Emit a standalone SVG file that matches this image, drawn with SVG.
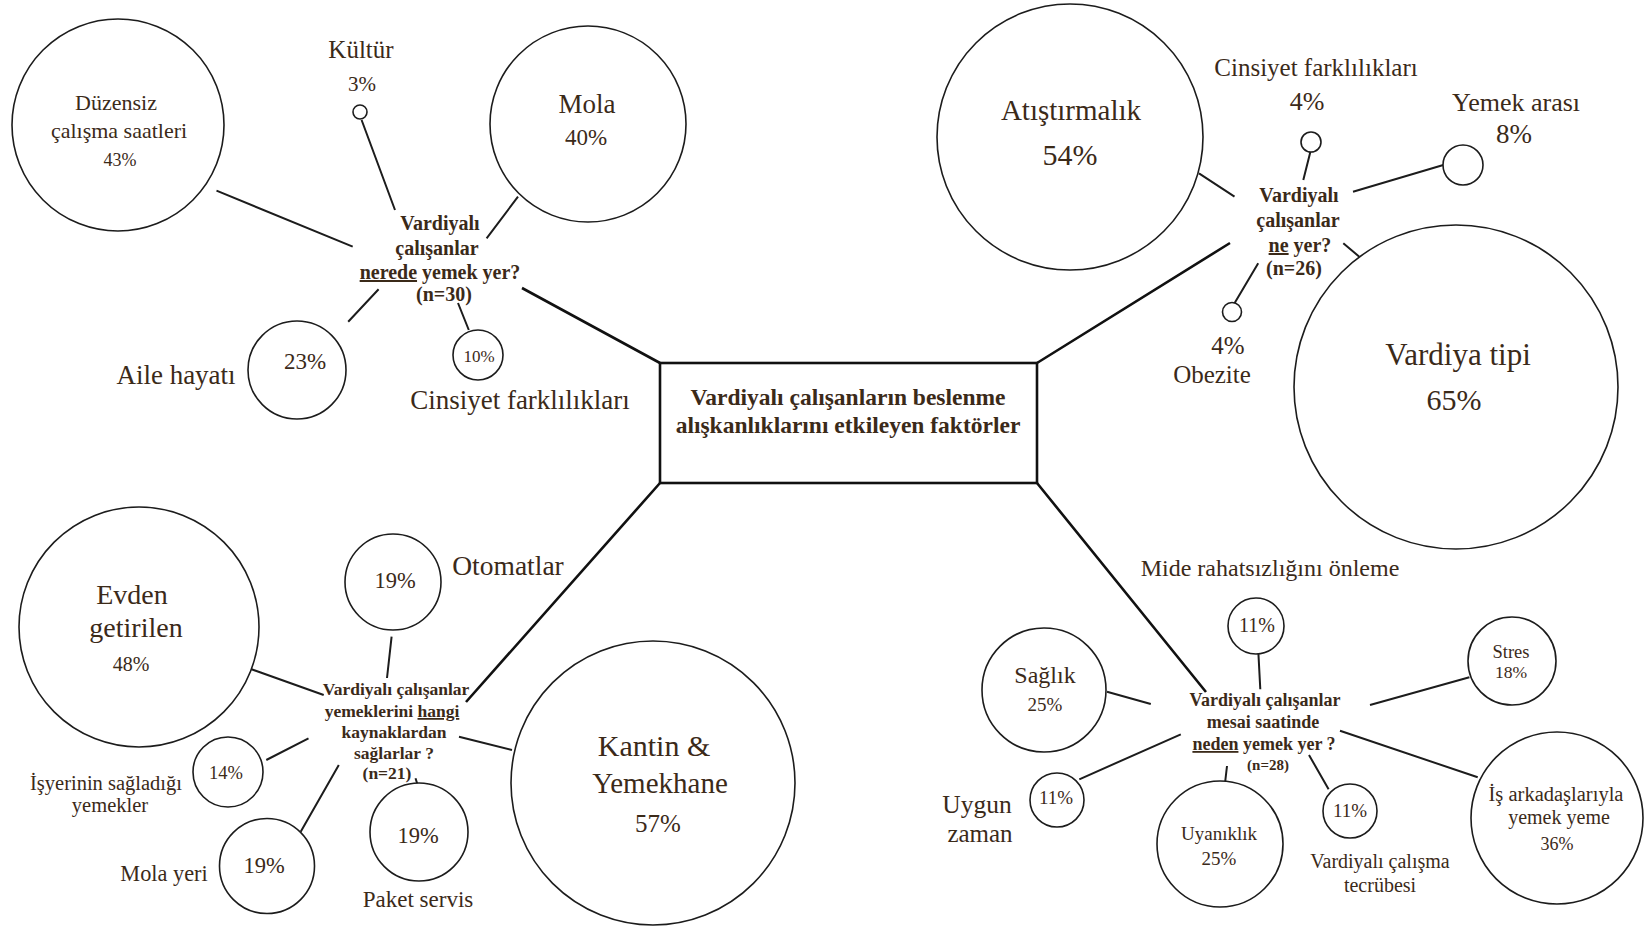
<svg xmlns="http://www.w3.org/2000/svg" width="1644" height="928" viewBox="0 0 1644 928">
<style>
text{font-family:"Liberation Serif","Times New Roman",serif;fill:#3b2a19;text-anchor:middle}
.b{font-weight:bold}
.c{fill:#fff;stroke:#1c1c1c;stroke-width:1.6}
.l{stroke:#1c1c1c;stroke-width:2;fill:none}
.m{stroke:#111;stroke-width:2.6;fill:none}
.u{text-decoration:underline}
</style>
<rect width="1644" height="928" fill="#fff"/>
<g id="connectors">
<path class="m" d="M522 288L660 363M1230 243L1037 363M466 702L660 483M1037 483L1206 692"/>
<path class="l" d="M216.5 190.7L352.7 246.7M361.6 120L395 210M518 196.7L486.6 238.3M348.2 321.7L378.6 289.3M458 303L468.8 330"/>
<path class="l" d="M1199 173.3L1234.5 196.7M1310.4 151.7L1303.3 180M1443.3 165L1353 191.7M1343.3 243.3L1359.3 256.7M1234.5 303.3L1258.2 263.3"/>
<path class="l" d="M246 667.3L323.7 695M391.6 636.7L387 678M266.3 760L308.5 738.3M300.7 831.7L338.8 765M415.5 778.3L418.7 788.3M459 736.7L512 750"/>
<path class="l" d="M1258.4 653.3L1260.3 689.3M1107 691.7L1150.8 704M1370 705L1469.4 677.3M1079.3 779.3L1180.8 734.3M1227 766L1224.7 786M1309 755L1328.6 789.3M1340 730.7L1477.7 777.3"/>
</g>
<g id="center">
<rect x="660" y="363" width="377" height="120" fill="#fff" stroke="#111" stroke-width="2.6"/>
<text class="b" x="848" y="405" font-size="23.5">Vardiyalı çalışanların beslenme</text>
<text class="b" x="848" y="433" font-size="23.5">alışkanlıklarını etkileyen faktörler</text>
</g>
<g id="q-nerede">
<text class="b" x="440" y="230" font-size="20">Vardiyalı</text>
<text class="b" x="437" y="255" font-size="20">çalışanlar</text>
<text class="b" x="440" y="279" font-size="20"><tspan class="u">nerede</tspan> yemek yer?</text>
<text class="b" x="444" y="301" font-size="20">(n=30)</text>
</g>
<g id="n-duzensiz">
<circle class="c" cx="118" cy="125" r="106"/>
<text x="116" y="110" font-size="22">Düzensiz</text>
<text x="119" y="138" font-size="22">çalışma saatleri</text>
<text x="120" y="166" font-size="18">43%</text>
</g>
<g id="n-kultur">
<circle class="c" cx="360" cy="112" r="7"/>
<text x="361" y="58" font-size="25">Kültür</text>
<text x="362" y="91" font-size="21">3%</text>
</g>
<g id="n-mola">
<circle class="c" cx="588" cy="124" r="98"/>
<text x="587" y="113" font-size="27">Mola</text>
<text x="586" y="145" font-size="23">40%</text>
</g>
<g id="n-aile">
<circle class="c" cx="297" cy="370" r="49"/>
<text x="305" y="369" font-size="23">23%</text>
<text x="176" y="384" font-size="27">Aile hayatı</text>
</g>
<g id="n-cinsiyet1">
<circle class="c" cx="478" cy="355" r="25"/>
<text x="479" y="362" font-size="17">10%</text>
<text x="520" y="409" font-size="27">Cinsiyet farklılıkları</text>
</g>
<g id="q-ne">
<text class="b" x="1299" y="202" font-size="20">Vardiyalı</text>
<text class="b" x="1298" y="227" font-size="20">çalışanlar</text>
<text class="b" x="1300" y="252" font-size="20"><tspan class="u">ne</tspan> yer?</text>
<text class="b" x="1294" y="275" font-size="20">(n=26)</text>
</g>
<g id="n-atistirmalik">
<circle class="c" cx="1070" cy="137" r="133"/>
<text x="1071" y="120" font-size="29">Atıştırmalık</text>
<text x="1070" y="165" font-size="30">54%</text>
</g>
<g id="n-cinsiyet2">
<circle class="c" cx="1311" cy="142" r="10"/>
<text x="1316" y="76" font-size="25">Cinsiyet farklılıkları</text>
<text x="1307" y="110" font-size="26">4%</text>
</g>
<g id="n-yemekarasi">
<circle class="c" cx="1463" cy="165" r="20"/>
<text x="1516" y="111" font-size="26">Yemek arası</text>
<text x="1514" y="143" font-size="27">8%</text>
</g>
<g id="n-obezite">
<circle class="c" cx="1232" cy="312" r="9.5"/>
<text x="1228" y="354" font-size="25">4%</text>
<text x="1212" y="383" font-size="25">Obezite</text>
</g>
<g id="n-vardiyatipi">
<circle class="c" cx="1456" cy="387" r="162"/>
<text x="1458" y="365" font-size="31">Vardiya tipi</text>
<text x="1454" y="410" font-size="30">65%</text>
</g>
<g id="q-hangi">
<text class="b" x="396" y="695" font-size="17.5">Vardiyalı çalışanlar</text>
<text class="b" x="392" y="717" font-size="17.5">yemeklerini <tspan class="u">hangi</tspan></text>
<text class="b" x="394" y="738" font-size="17.5">kaynaklardan</text>
<text class="b" x="394" y="759" font-size="17.5">sağlarlar ?</text>
<text class="b" x="387" y="779" font-size="17.5">(n=21)</text>
</g>
<g id="n-evden">
<circle class="c" cx="139" cy="627" r="120"/>
<text x="132" y="604" font-size="28">Evden</text>
<text x="136" y="637" font-size="28">getirilen</text>
<text x="131" y="671" font-size="20">48%</text>
</g>
<g id="n-otomatlar">
<circle class="c" cx="393" cy="582" r="48"/>
<text x="395" y="588" font-size="22.5">19%</text>
<text x="508" y="575" font-size="27.5">Otomatlar</text>
</g>
<g id="n-isyeri">
<circle class="c" cx="228" cy="772" r="35"/>
<text x="226" y="779" font-size="18.5">14%</text>
<text x="106" y="790" font-size="20.5">İşyerinin sağladığı</text>
<text x="110" y="812" font-size="20.5">yemekler</text>
</g>
<g id="n-molayeri">
<circle class="c" cx="267" cy="866" r="47.5"/>
<text x="264" y="873" font-size="22.5">19%</text>
<text x="164" y="881" font-size="22.3">Mola yeri</text>
</g>
<g id="n-paket">
<circle class="c" cx="419" cy="832" r="49"/>
<text x="418" y="843" font-size="22.5">19%</text>
<text x="418" y="907" font-size="23">Paket servis</text>
</g>
<g id="n-kantin">
<circle class="c" cx="653" cy="783" r="142"/>
<text x="654" y="756" font-size="30">Kantin &amp;</text>
<text x="660" y="793" font-size="29">Yemekhane</text>
<text x="658" y="832" font-size="25">57%</text>
</g>
<g id="q-neden">
<text class="b" x="1265" y="706" font-size="18">Vardiyalı çalışanlar</text>
<text class="b" x="1263" y="728" font-size="18">mesai saatinde</text>
<text class="b" x="1264" y="750" font-size="18"><tspan class="u">neden</tspan> yemek yer ?</text>
<text class="b" x="1268" y="770" font-size="15">(n=28)</text>
</g>
<g id="n-mide">
<circle class="c" cx="1256" cy="626" r="28"/>
<text x="1257" y="632" font-size="20">11%</text>
<text x="1270" y="576" font-size="24">Mide rahatsızlığını önleme</text>
</g>
<g id="n-saglik">
<circle class="c" cx="1044" cy="690" r="62"/>
<text x="1045" y="683" font-size="24">Sağlık</text>
<text x="1045" y="711" font-size="19">25%</text>
</g>
<g id="n-stres">
<circle class="c" cx="1512" cy="661" r="44"/>
<text x="1511" y="658" font-size="18.5">Stres</text>
<text x="1511" y="678" font-size="17.6">18%</text>
</g>
<g id="n-uygun">
<circle class="c" cx="1057" cy="800" r="27"/>
<text x="1056" y="804" font-size="19">11%</text>
<text x="977" y="813" font-size="25.5">Uygun</text>
<text x="980" y="842" font-size="25">zaman</text>
</g>
<g id="n-uyaniklik">
<circle class="c" cx="1220" cy="844" r="63"/>
<text x="1219" y="840" font-size="19">Uyanıklık</text>
<text x="1219" y="865" font-size="19">25%</text>
</g>
<g id="n-tecrube">
<circle class="c" cx="1350" cy="811" r="27"/>
<text x="1350" y="817" font-size="19">11%</text>
<text x="1380" y="868" font-size="20">Vardiyalı çalışma</text>
<text x="1380" y="892" font-size="20">tecrübesi</text>
</g>
<g id="n-isarkadas">
<circle class="c" cx="1557" cy="818" r="86"/>
<text x="1556" y="801" font-size="20.5">İş arkadaşlarıyla</text>
<text x="1559" y="824" font-size="20">yemek yeme</text>
<text x="1557" y="850" font-size="18">36%</text>
</g>
</svg>
